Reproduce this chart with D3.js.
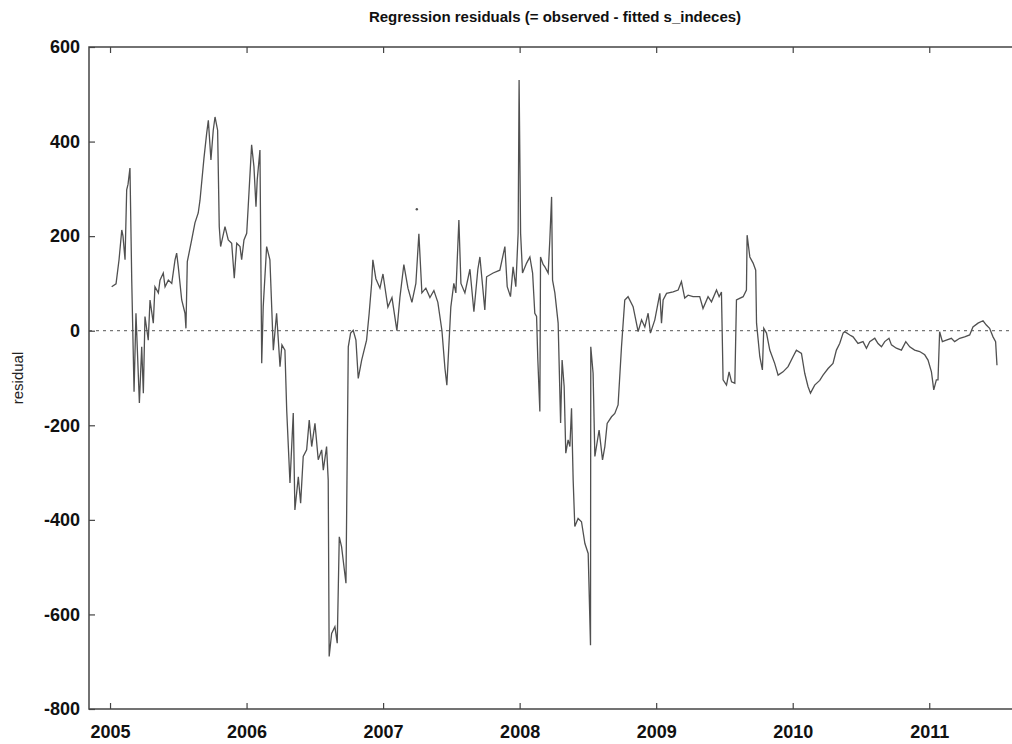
<head>
  <meta charset="utf-8">
  <script src="https://d3js.org/d3.v7.min.js"></script>
  <style>
    body { margin: 0; background: #fff; }
    .tick text { font-family: "Liberation Sans", Arial, sans-serif; font-weight: bold; font-size: 18px; fill: #111; }
    .tick line { stroke: #444; stroke-width: 1.2; }
    .series { fill: none; stroke: #505050; stroke-width: 1.3; }
  </style>
</head>
<body>
  <script>

  // residuals (decimal year, value)
  var years = [
    2005.012, 2005.044, 2005.066, 2005.086, 2005.095, 2005.110, 2005.122, 2005.132, 2005.146, 2005.159,
    2005.176, 2005.190, 2005.215, 2005.232, 2005.244, 2005.256, 2005.280, 2005.293, 2005.317, 2005.329,
    2005.354, 2005.366, 2005.390, 2005.403, 2005.427, 2005.452, 2005.476, 2005.488, 2005.500, 2005.525,
    2005.549, 2005.556, 2005.566, 2005.598, 2005.622, 2005.646, 2005.659, 2005.688, 2005.708, 2005.720,
    2005.739, 2005.756, 2005.769, 2005.788, 2005.800, 2005.810, 2005.842, 2005.866, 2005.891, 2005.910,
    2005.928, 2005.952, 2005.964, 2005.981, 2006.001, 2006.012, 2006.037, 2006.054, 2006.069, 2006.078,
    2006.098, 2006.111, 2006.122, 2006.147, 2006.171, 2006.196, 2006.220, 2006.245, 2006.259, 2006.281,
    2006.294, 2006.318, 2006.342, 2006.354, 2006.379, 2006.396, 2006.415, 2006.440, 2006.459, 2006.477,
    2006.501, 2006.525, 2006.550, 2006.562, 2006.586, 2006.598, 2006.605, 2006.623, 2006.647, 2006.664,
    2006.679, 2006.696, 2006.728, 2006.745, 2006.762, 2006.781, 2006.801, 2006.818, 2006.843, 2006.879,
    2006.898, 2006.916, 2006.925, 2006.947, 2006.977, 2006.999, 2007.035, 2007.065, 2007.101, 2007.123,
    2007.152, 2007.182, 2007.211, 2007.240, 2007.262, 2007.284, 2007.313, 2007.343, 2007.372, 2007.401,
    2007.431, 2007.453, 2007.467, 2007.496, 2007.518, 2007.533, 2007.555, 2007.570, 2007.599, 2007.636,
    2007.665, 2007.694, 2007.709, 2007.745, 2007.758, 2007.806, 2007.855, 2007.892, 2007.909, 2007.933,
    2007.952, 2007.972, 2007.989, 2007.996, 2008.007, 2008.021, 2008.051, 2008.075, 2008.095, 2008.111,
    2008.124, 2008.133, 2008.148, 2008.153, 2008.172, 2008.185, 2008.209, 2008.221, 2008.234, 2008.241,
    2008.258, 2008.282, 2008.300, 2008.311, 2008.326, 2008.338, 2008.355, 2008.368, 2008.380, 2008.392,
    2008.404, 2008.428, 2008.453, 2008.478, 2008.502, 2008.519, 2008.521, 2008.538, 2008.551, 2008.582,
    2008.607, 2008.624, 2008.641, 2008.673, 2008.697, 2008.721, 2008.746, 2008.770, 2008.794, 2008.831,
    2008.868, 2008.893, 2008.917, 2008.941, 2008.958, 2008.990, 2009.027, 2009.039, 2009.051, 2009.076,
    2009.124, 2009.161, 2009.185, 2009.209, 2009.234, 2009.270, 2009.319, 2009.343, 2009.380, 2009.405,
    2009.442, 2009.461, 2009.478, 2009.490, 2009.515, 2009.534, 2009.552, 2009.576, 2009.588, 2009.637,
    2009.661, 2009.666, 2009.686, 2009.710, 2009.729, 2009.735, 2009.759, 2009.778, 2009.788, 2009.808,
    2009.832, 2009.868, 2009.893, 2009.929, 2009.966, 2010.002, 2010.027, 2010.064, 2010.088, 2010.112,
    2010.130, 2010.161, 2010.198, 2010.222, 2010.259, 2010.295, 2010.320, 2010.344, 2010.369, 2010.381,
    2010.418, 2010.442, 2010.478, 2010.515, 2010.540, 2010.564, 2010.601, 2010.625, 2010.650, 2010.674,
    2010.705, 2010.723, 2010.759, 2010.796, 2010.828, 2010.857, 2010.893, 2010.930, 2010.967, 2010.991,
    2011.016, 2011.033, 2011.052, 2011.064, 2011.076, 2011.096, 2011.125, 2011.162, 2011.186, 2011.223,
    2011.259, 2011.296, 2011.320, 2011.357, 2011.394, 2011.418, 2011.442, 2011.467, 2011.486, 2011.496
  ];
  var residuals = [
    93, 99, 150, 213, 200, 150, 298, 310, 344, 107,
    -129, 37, -153, -34, -132, 30, -20, 65, 16, 93,
    80, 107, 122, 93, 107, 100, 150, 164, 135, 65,
    37, 5, 146, 192, 228, 249, 276, 365, 418, 445,
    361, 424, 452, 424, 220, 178, 220, 192, 185, 111,
    185, 178, 150, 192, 206, 262, 393, 347, 262, 319,
    382, -69, 51, 178, 150, -41, 37, -76, -30, -41,
    -168, -322, -174, -379, -309, -365, -266, -252, -189, -245,
    -196, -273, -252, -295, -245, -316, -689, -640, -626, -661,
    -436, -457, -534, -34, -5, 1, -20, -101, -62, -20,
    37, 100, 150, 110, 90, 120, 50, 70, 0, 70,
    140, 90, 60, 100, 205, 80, 90, 70, 85, 60,
    0, -80, -115, 50, 100, 80, 234, 100, 80, 130,
    40, 130, 156, 44, 114, 122, 128, 178, 93, 72,
    135, 93, 206, 530, 206, 122, 143, 156, 122, 37,
    30, -60, -171, 156, 140, 135, 122, 192, 283, 107,
    80, 16, -195, -62, -118, -259, -231, -245, -164, -316,
    -414, -397, -404, -450, -471, -665, -34, -90, -266, -210,
    -273, -245, -196, -182, -175, -157, -34, 65, 72, 51,
    -2, 23, 8, 37, -5, 23, 79, 16, 65, 79,
    82, 86, 104, 69, 75, 72, 72, 47, 72, 61,
    86, 72, 82, -104, -115, -87, -108, -111, 65, 72,
    86, 202, 156, 143, 128, 16, -55, -83, 5, -5,
    -41, -69, -94, -87, -76, -55, -41, -48, -90, -118,
    -132, -115, -105, -94, -80, -69, -41, -27, -5, -2,
    -9, -13, -27, -23, -37, -23, -16, -27, -34, -23,
    -16, -30, -37, -41, -23, -34, -41, -44, -51, -62,
    -87, -125, -104, -104, -2, -23, -20, -16, -23, -16,
    -13, -9, 8, 16, 21, 12, 5, -13, -23, -73
  ];
  // lone point standing apart from the line
  var loneYears = [2007.247];
  var loneValues = [257];

  var xTickYears = [2005, 2006, 2007, 2008, 2009, 2010, 2011];
  var yTickValues = [600, 400, 200, 0, -200, -400, -600, -800];

  var width = 1012, height = 744;
  var pLeft = 89, pRight = 1015, pTop = 47, pBottom = 709;

  var svg = d3.select("body").append("svg")
    .attr("width", width)
    .attr("height", height);

  var x = d3.scaleLinear()
    .domain([2004.846, 2011.628])
    .range([pLeft, pRight]);

  var y = d3.scaleLinear()
    .domain([-800, 600])
    .range([pBottom, pTop]);

  // title
  svg.append("text")
    .attr("x", 555)
    .attr("y", 22)
    .attr("text-anchor", "middle")
    .style("font-family", "'Liberation Sans', Arial, sans-serif")
    .style("font-weight", "bold")
    .style("font-size", "15px")
    .style("fill", "#111")
    .text("Regression residuals (= observed - fitted s_indeces)");

  // y label
  svg.append("text")
    .attr("transform", "translate(23,378) rotate(-90)")
    .attr("text-anchor", "middle")
    .style("font-family", "'Liberation Sans', Arial, sans-serif")
    .style("font-size", "15px")
    .style("fill", "#222")
    .text("residual");

  // zero line
  svg.append("line")
    .attr("x1", pLeft).attr("x2", pRight)
    .attr("y1", y(0)).attr("y2", y(0))
    .style("stroke", "#777")
    .style("stroke-width", 1.2)
    .style("stroke-dasharray", "3,4");

  var line = d3.line()
    .x(function(d, i) { return x(years[i]); })
    .y(function(d) { return y(d); });

  svg.append("path")
    .datum(residuals)
    .attr("class", "series")
    .attr("d", line);

  svg.selectAll("circle.lone")
    .data(loneValues)
    .enter().append("circle")
    .attr("class", "lone")
    .attr("cx", function(d, i) { return x(loneYears[i]); })
    .attr("cy", function(d) { return y(d); })
    .attr("r", 1.2)
    .style("fill", "#555");

  // plain hyphen for negatives, as in the picture
  var plain = function(d) { return String(d); };

  // axes, ticks pointing inwards
  svg.append("g")
    .attr("transform", "translate(0," + pBottom + ")")
    .call(d3.axisBottom(x).tickValues(xTickYears).tickFormat(plain).tickSize(-6).tickPadding(16));
  svg.append("g")
    .attr("transform", "translate(0," + pTop + ")")
    .call(d3.axisTop(x).tickValues(xTickYears).tickFormat("").tickSize(-6));
  svg.append("g")
    .attr("transform", "translate(" + pLeft + ",0)")
    .call(d3.axisLeft(y).tickValues(yTickValues).tickFormat(plain).tickSize(-6).tickPadding(9));

  svg.selectAll(".domain").remove();

  // frame
  svg.append("rect")
    .attr("x", pLeft).attr("y", pTop)
    .attr("width", pRight - pLeft).attr("height", pBottom - pTop)
    .style("fill", "none")
    .style("stroke", "#444")
    .style("stroke-width", 1.5);
  </script>
</body>
